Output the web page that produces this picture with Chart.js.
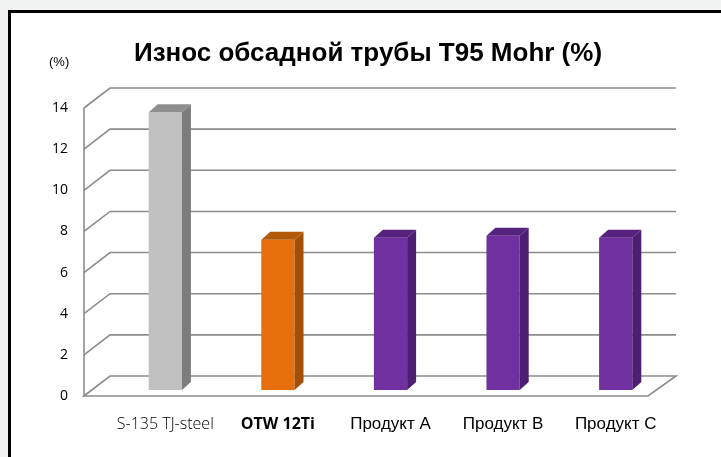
<!DOCTYPE html>
<html>
<head>
<meta charset="utf-8">
<script src="https://cdn.jsdelivr.net/npm/chart.js@4.4.0/dist/chart.umd.min.js"></script>
<style>
	html, body { margin: 0; padding: 0; background: #f1f2f2; overflow: hidden; }
	.box { position: absolute; left: 8px; top: 10px; width: 720px; height: 460px; border: 3px solid #000; background: #fff; }
	.wrap { position: absolute; left: 0; top: 0; width: 710px; height: 444px; }
</style>
</head>
<body>
<div class="box"><div class="wrap"><canvas id="wearChart"></canvas></div></div>
<script>
var categories = ['S-135 TJ-steel', 'OTW 12Ti', 'Продукт A', 'Продукт B', 'Продукт C'];
var wearValues = [13.5, 7.3, 7.4, 7.5, 7.4];
var yTicks = [0, 2, 4, 6, 8, 10, 12, 14];
var chartTitle = 'Износ обсадной трубы T95 Mohr (%)';

var frontColors = ['#c0c0c0', '#e66f0c', '#7030a0', '#7030a0', '#7030a0'];
var sideColors = ['#7c7c7c', '#a44f07', '#4c1f72', '#4c1f72', '#4c1f72'];
var topColors = ['#8e8e8e', '#b2590a', '#55237e', '#55237e', '#55237e'];

// 3d depth of the bars and of the walls (pixels)
var barDX = 9, barDY = -8;
var wallBackDX = 1, wallBackDY = -14;
var wallFrontDX = -25, wallFrontDY = 6;

var scene3d = {
	id: 'scene3d',
	beforeDatasetsDraw: function(chart) {
		var c = chart.ctx, y = chart.scales.y, a = chart.chartArea;
		var fl = a.left + wallFrontDX, bl = a.left + wallBackDX, br = a.right + 4, fr = a.right - 24;
		c.save();
		c.strokeStyle = '#8c8c8c';
		c.lineWidth = 1.6;
		// floor
		var y0 = y.getPixelForValue(0);
		c.beginPath();
		c.moveTo(fl, y0 + wallFrontDY);
		c.lineTo(bl, y0 + wallBackDY);
		c.lineTo(br, y0 + wallBackDY);
		c.lineTo(fr, y0 + wallFrontDY);
		c.closePath();
		c.stroke();
		// grid on left + back wall
		yTicks.forEach(function(v) {
			if (v === 0) return;
			var py = y.getPixelForValue(v);
			c.beginPath();
			c.moveTo(fl, py + wallFrontDY);
			c.lineTo(bl, py + wallBackDY);
			c.lineTo(br, py + wallBackDY);
			c.stroke();
		});
		// front axis line
		c.beginPath();
		c.moveTo(fl, y.getPixelForValue(14) + wallFrontDY);
		c.lineTo(fl, y0 + wallFrontDY);
		c.stroke();
		// tick labels
		c.fillStyle = '#000';
		c.font = '14px "Open Sans"';
		c.textAlign = 'right';
		c.textBaseline = 'middle';
		yTicks.forEach(function(v) {
			c.fillText(String(v), fl - 16, y.getPixelForValue(v) + wallFrontDY);
		});
		c.textAlign = 'left';
		c.font = '13px "Liberation Sans"';
		c.fillText('(%)', 38, 49);
		// title
		c.textAlign = 'center';
		c.textBaseline = 'alphabetic';
		c.font = 'bold 26px "Liberation Sans"';
		c.fillText(chartTitle, 357, 48);
		c.restore();
	},
	afterDatasetsDraw: function(chart) {
		var c = chart.ctx, meta = chart.getDatasetMeta(0);
		c.save();
		meta.data.forEach(function(bar, i) {
			var l = bar.x - bar.width / 2, r = bar.x + bar.width / 2, t = bar.y, b = bar.base;
			// side face
			c.fillStyle = sideColors[i];
			c.beginPath();
			c.moveTo(r, t);
			c.lineTo(r + barDX, t + barDY);
			c.lineTo(r + barDX, b + barDY);
			c.lineTo(r, b);
			c.closePath();
			c.fill();
			// top face
			c.fillStyle = topColors[i];
			c.beginPath();
			c.moveTo(l, t);
			c.lineTo(l + barDX, t + barDY);
			c.lineTo(r + barDX, t + barDY);
			c.lineTo(r, t);
			c.closePath();
			c.fill();
		});
		// category labels
		var x = chart.scales.x, py = chart.chartArea.bottom + 34;
		c.fillStyle = '#000';
		c.textAlign = 'center';
		c.textBaseline = 'middle';
		categories.forEach(function(lbl, i) {
			if (i === 0) c.font = '300 16px "Open Sans"';
			else if (i === 1) c.font = 'bold 16px "Open Sans"';
			else c.font = '17px "Liberation Sans"';
			c.fillText(lbl, x.getPixelForValue(i), py);
		});
		c.restore();
	}
};

var ctx = document.getElementById('wearChart');
var wearChart = new Chart(ctx, {
	type: 'bar',
	data: {
		labels: categories,
		datasets: [{
			label: 'Износ',
			data: wearValues,
			backgroundColor: frontColors,
			borderWidth: 0,
			barPercentage: 0.295,
			categoryPercentage: 1
		}]
	},
	options: {
		responsive: true,
		maintainAspectRatio: false,
		animation: false,
		events: [],
		layout: { padding: { left: 98, right: 49, top: 89, bottom: 67 } },
		plugins: {
			legend: { display: false },
			tooltip: { enabled: false },
			title: { display: false }
		},
		scales: {
			x: { display: false },
			y: { display: false, min: 0, max: 14 }
		}
	},
	plugins: [scene3d]
});
</script>
</body>
</html>
